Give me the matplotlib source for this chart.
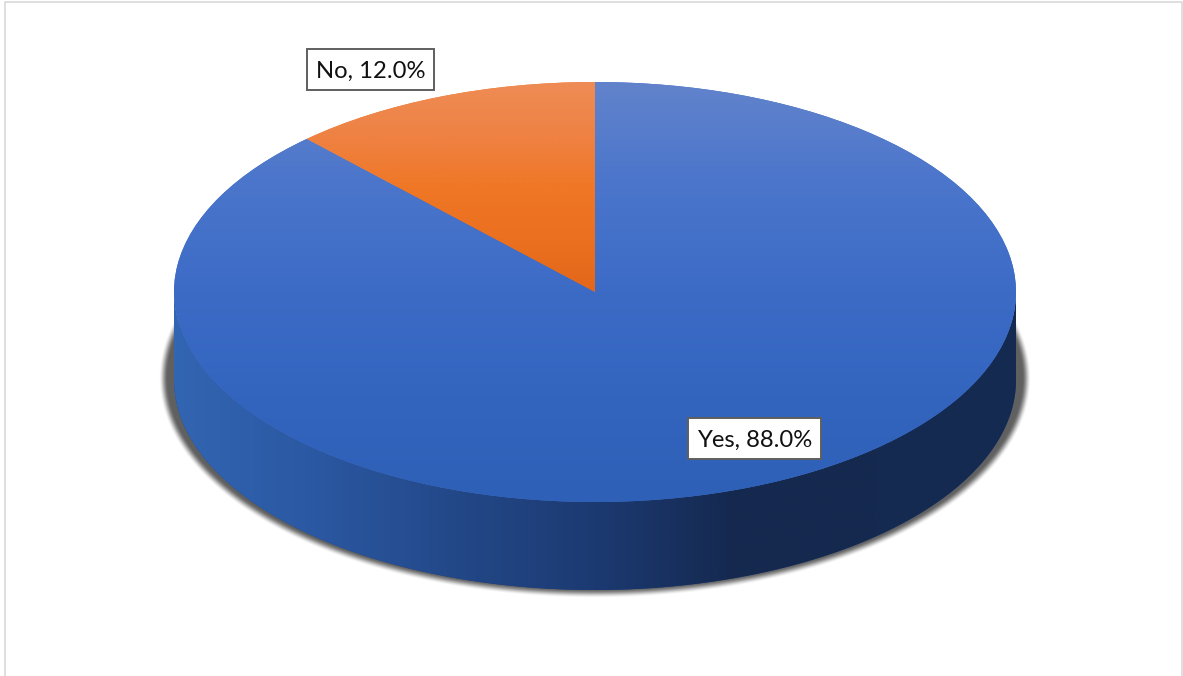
"""
3-D style pie: share of Yes / No answers.
"""
import matplotlib
matplotlib.use("Agg")
import matplotlib.pyplot as plt
import numpy as np
from matplotlib.colors import LinearSegmentedColormap
from matplotlib.lines import Line2D
from matplotlib.patches import Polygon, Rectangle

W, H = 1183, 676
# pie placement in pixels
CX, CY, RX, RY = 595, 292, 421, 210
DEPTH = 88 / RY

labels = ["Yes", "No"]
values = [88.0, 12.0]

top_grad = {
    "Yes": ["#6283cc", "#4a75cb", "#3c6bc6", "#3365bf", "#2e60b7"],
    "No": ["#ee8c55", "#ef8244", "#ef7726", "#eb701f", "#e4671a"],
}
side_grad = ["#3265b2", "#2b58a2", "#234888", "#1c3a72", "#15294f", "#152a50", "#152a50"]

plt.rcParams["font.family"] = ["Lato", "DejaVu Sans"]

fig = plt.figure(figsize=(W / 100, H / 100), dpi=100)
ax = fig.add_axes([0, 0, 1, 1])

wedges, _ = ax.pie(values, startangle=90, counterclock=False, radius=1,
                   wedgeprops={"linewidth": 0})
ax.set_aspect("auto")
ax.set_xlim(-CX / RX, (W - CX) / RX)
ax.set_ylim((CY - H) / RY, CY / RY)


def vgrad(colors, top, bottom, left, right, zorder):
    cmap = LinearSegmentedColormap.from_list("v", colors)
    return ax.imshow(np.linspace(0, 1, 256).reshape(-1, 1), cmap=cmap, aspect="auto",
                     extent=(left, right, bottom, top), origin="upper",
                     interpolation="bilinear", zorder=zorder)


# soft shadow under the disc side
sx, sy = np.meshgrid(np.linspace(*ax.get_xlim(), W), np.linspace(*ax.get_ylim(), H))
px, py = sx * RX, (sy + 86 / RY) * RY
srx, sry = 432, 216
rho = np.sqrt((px / srx) ** 2 + (py / sry) ** 2)
grad = np.sqrt((px / srx ** 2) ** 2 + (py / sry ** 2) ** 2) / np.maximum(rho, 1e-6)
dist = (rho - 1) / np.maximum(grad, 1e-6)
t = np.clip(0.5 - dist / 9, 0, 1)
alpha = t * t * (3 - 2 * t)
shadow = np.zeros((H, W, 4))
shadow[..., :3] = 0.38
shadow[..., 3] = alpha
ax.imshow(shadow, extent=(*ax.get_xlim(), *ax.get_ylim()), origin="lower",
          aspect="auto", interpolation="bilinear", zorder=1)

# side wall, shaded left to right
theta = np.linspace(np.pi, 2 * np.pi, 400)
rim = np.column_stack([np.cos(theta), np.sin(theta)])
wall = np.vstack([rim, (rim - [0, DEPTH])[::-1]])
wall_patch = Polygon(wall, closed=True, facecolor="#1f4180", edgecolor="none", zorder=2)
ax.add_patch(wall_patch)
cmap = LinearSegmentedColormap.from_list("side", side_grad)
side = ax.imshow(np.linspace(0, 1, 512).reshape(1, -1), cmap=cmap, aspect="auto",
                 extent=(-1, 1, -1 - DEPTH, 0), interpolation="bilinear", zorder=2.1)
side.set_clip_path(wall_patch)

# top face, each slice with a vertical gradient
for wedge, name in zip(wedges, labels):
    wedge.set_zorder(3)
    wedge.set_facecolor(top_grad[name][2])
    im = vgrad(top_grad[name], 1, 0 if name == "No" else -1, -1, 1, 3.1)
    im.set_clip_path(wedge)

ax.set_xlim(-CX / RX, (W - CX) / RX)
ax.set_ylim((CY - H) / RY, CY / RY)

# data labels; the box follows the text width at a fixed height
label_pos = {"Yes": (754.5, 438.5), "No": (370.5, 69.5)}
renderer = fig.canvas.get_renderer()
for name, val in zip(labels, values):
    lx, ly = label_pos[name]
    txt = ax.text((lx - CX) / RX, (CY - ly - 2) / RY, f"{name}, {val:.1f}%", fontsize=17.2,
                  ha="center", va="center", color="#111111", zorder=5)
    box_w = txt.get_window_extent(renderer).width + 18
    box_h = 41
    ax.add_patch(Rectangle(((lx - box_w / 2 - CX) / RX, (CY - ly - box_h / 2) / RY),
                           box_w / RX, box_h / RY, facecolor="white",
                           edgecolor="#5f5f5f", linewidth=1.4, zorder=4))

# thin chart-area frame, open at the bottom
frame = Line2D([5 / W, 5 / W, 1182 / W, 1182 / W], [0, 1 - 2 / H, 1 - 2 / H, 0],
               transform=fig.transFigure, color="#d9d9d9", lw=1.2)
fig.add_artist(frame)

fig.savefig("out.png", dpi=100)
